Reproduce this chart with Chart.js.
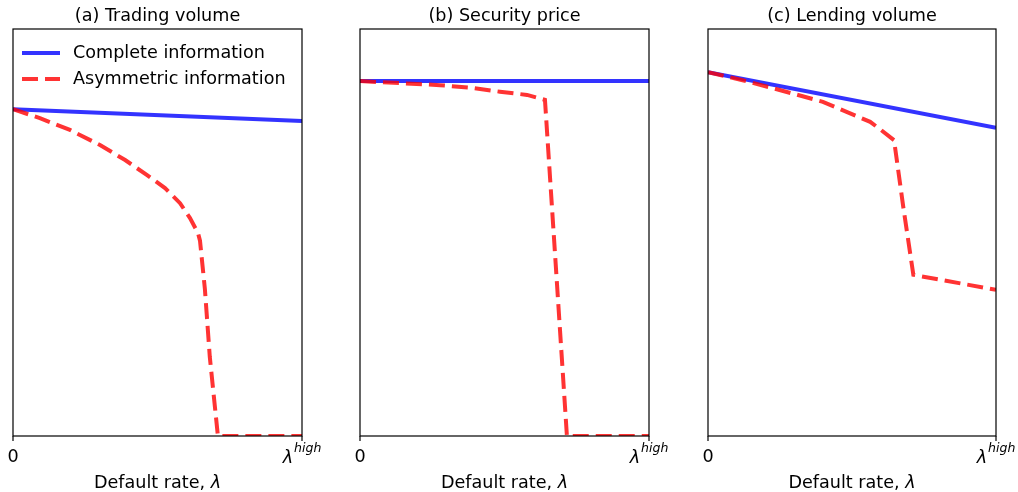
<!DOCTYPE html>
<html><head><meta charset="utf-8">
<script src="https://cdn.jsdelivr.net/npm/chart.js@4/dist/chart.umd.min.js"></script>
<style>
html,body{margin:0;padding:0;background:#fff;overflow:hidden}
#wrap{position:relative;width:1018px;height:492px}
canvas{position:absolute;left:0;top:0;pointer-events:none}
</style></head><body>
<div id="wrap">
<canvas id="c0" width="1018" height="492"></canvas>
<canvas id="c1" width="1018" height="492"></canvas>
<canvas id="c2" width="1018" height="492"></canvas>
</div>
<script>
// ---- data ----
const seriesNames = ['Complete information', 'Asymmetric information'];
const panelTitles = ['(a) Trading volume', '(b) Security price', '(c) Lending volume'];
const xTickValues = [0, 1];
const xTickLabels = ['0', 'λ^high'];
const xAxisTitle = 'Default rate, λ';

// (a) Trading volume
const aCompleteX = [0, 1];
const aCompleteY = [0.803, 0.774];
const aAsymX = [0, 0.093, 0.197, 0.301, 0.388, 0.464, 0.526, 0.578, 0.612, 0.640, 0.647, 0.664, 0.681, 0.709, 1];
const aAsymY = [0.803, 0.781, 0.752, 0.715, 0.678, 0.641, 0.609, 0.572, 0.536, 0.499, 0.480, 0.361, 0.194, 0, 0];

// (b) Security price
const bCompleteX = [0, 1];
const bCompleteY = [0.872, 0.872];
const bAsymX = [0, 0.138, 0.277, 0.380, 0.484, 0.578, 0.640, 0.716, 1];
const bAsymY = [0.872, 0.867, 0.862, 0.856, 0.846, 0.838, 0.826, 0, 0];

// (c) Lending volume
const cCompleteX = [0, 1];
const cCompleteY = [0.894, 0.757];
const cAsymX = [0, 0.120, 0.239, 0.399, 0.563, 0.597, 0.646, 0.678, 0.713, 1];
const cAsymY = [0.894, 0.874, 0.852, 0.821, 0.772, 0.754, 0.727, 0.563, 0.396, 0.359];

// ---- layout ----
const W = 1018, H = 492;
const panels = [
  {left: 13, right: 302, cx: aCompleteX, cy: aCompleteY, ax: aAsymX, ay: aAsymY, legend: true},
  {left: 360, right: 649, cx: bCompleteX, cy: bCompleteY, ax: bAsymX, ay: bAsymY, legend: false},
  {left: 708, right: 996, cx: cCompleteX, cy: cCompleteY, ax: cAsymX, ay: cAsymY, legend: false}
];
const TOP = 29, BOTTOM = 436;
const FONT = '"DejaVu Sans", sans-serif';
const FS = '17.6px ';
const BLUE = 'rgba(0,0,255,0.8)';
const RED = 'rgba(255,0,0,0.8)';
const DASH = [16, 7];

function pts(xs, ys) { return xs.map((x, i) => ({x: x, y: ys[i]})); }

function makeDecor(idx, p) {
  return {
    id: 'decor' + idx,
    afterDraw(chart) {
      const ctx = chart.ctx;
      const a = chart.chartArea;
      const xs = chart.scales.x;
      ctx.save();
      // frame
      ctx.strokeStyle = '#000';
      ctx.lineWidth = 1.2;
      ctx.strokeRect(a.left, a.top, a.right - a.left, a.bottom - a.top);
      // ticks
      ctx.fillStyle = '#000';
      xTickValues.forEach((v, i) => {
        const px = xs.getPixelForValue(v);
        ctx.beginPath();
        ctx.moveTo(px, a.bottom);
        ctx.lineTo(px, a.bottom + 5);
        ctx.stroke();
        const lab = xTickLabels[i];
        if (lab.indexOf('^') >= 0) {
          const parts = lab.split('^');
          ctx.font = 'italic ' + FS + FONT;
          const w1 = ctx.measureText(parts[0]).width;
          ctx.font = 'italic 12.5px ' + FONT;
          const w2 = ctx.measureText(parts[1]).width;
          const total = w1 + 1 + w2;
          let x0 = px - total / 2;
          ctx.textBaseline = 'alphabetic';
          ctx.textAlign = 'left';
          ctx.font = 'italic ' + FS + FONT;
          ctx.fillText(parts[0], x0, 463);
          ctx.font = 'italic 12.5px ' + FONT;
          ctx.fillText(parts[1], x0 + w1 + 1, 452);
        } else {
          ctx.font = FS + FONT;
          ctx.textAlign = 'center';
          ctx.textBaseline = 'alphabetic';
          ctx.fillText(lab, px, 462);
        }
      });
      const midX = (a.left + a.right) / 2;
      // title
      ctx.font = FS + FONT;
      ctx.textAlign = 'center';
      ctx.textBaseline = 'alphabetic';
      ctx.fillText(panelTitles[idx], midX, 21);
      // x axis title with italic lambda
      const base = xAxisTitle.slice(0, -1), sym = xAxisTitle.slice(-1);
      ctx.font = FS + FONT;
      const wb = ctx.measureText(base).width;
      ctx.font = 'italic ' + FS + FONT;
      const ws = ctx.measureText(sym).width;
      const sx = midX - (wb + ws) / 2;
      ctx.textAlign = 'left';
      ctx.font = FS + FONT;
      ctx.fillText(base, sx, 488);
      ctx.font = 'italic ' + FS + FONT;
      ctx.fillText(sym, sx + wb, 488);
      // legend
      if (p.legend) {
        const items = [
          {name: seriesNames[0], color: BLUE, dash: []},
          {name: seriesNames[1], color: RED, dash: DASH}
        ];
        items.forEach((it, k) => {
          const y = 53 + k * 26;
          ctx.save();
          ctx.strokeStyle = it.color;
          ctx.lineWidth = 4;
          ctx.setLineDash(it.dash);
          ctx.beginPath();
          ctx.moveTo(22, y);
          ctx.lineTo(60, y);
          ctx.stroke();
          ctx.restore();
          ctx.font = FS + FONT;
          ctx.fillStyle = '#000';
          ctx.textAlign = 'left';
          ctx.textBaseline = 'middle';
          ctx.fillText(it.name, 73, y);
        });
      }
      ctx.restore();
    }
  };
}

panels.forEach((p, idx) => {
  const ctx = document.getElementById('c' + idx).getContext('2d');
  new Chart(ctx, {
    type: 'line',
    data: {
      datasets: [
        {label: seriesNames[0], data: pts(p.cx, p.cy), borderColor: BLUE, borderWidth: 4,
         pointRadius: 0, tension: 0, fill: false, order: 1, clip: {left: 0, right: 0, top: 0, bottom: 0}},
        {label: seriesNames[1], data: pts(p.ax, p.ay), borderColor: RED, borderWidth: 4, borderDash: DASH,
         pointRadius: 0, tension: 0, fill: false, order: 0, clip: {left: 0, right: 0, top: 0, bottom: 0}}
      ]
    },
    options: {
      responsive: false, animation: false, devicePixelRatio: 1,
      layout: {padding: {left: p.left, right: W - p.right, top: TOP, bottom: H - BOTTOM}},
      plugins: {legend: {display: false}, tooltip: {enabled: false}, title: {display: false}},
      scales: {
        x: {type: 'linear', min: 0, max: 1, display: false},
        y: {type: 'linear', min: 0, max: 1, display: false}
      }
    },
    plugins: [makeDecor(idx, p)]
  });
});
</script>
</body></html>
